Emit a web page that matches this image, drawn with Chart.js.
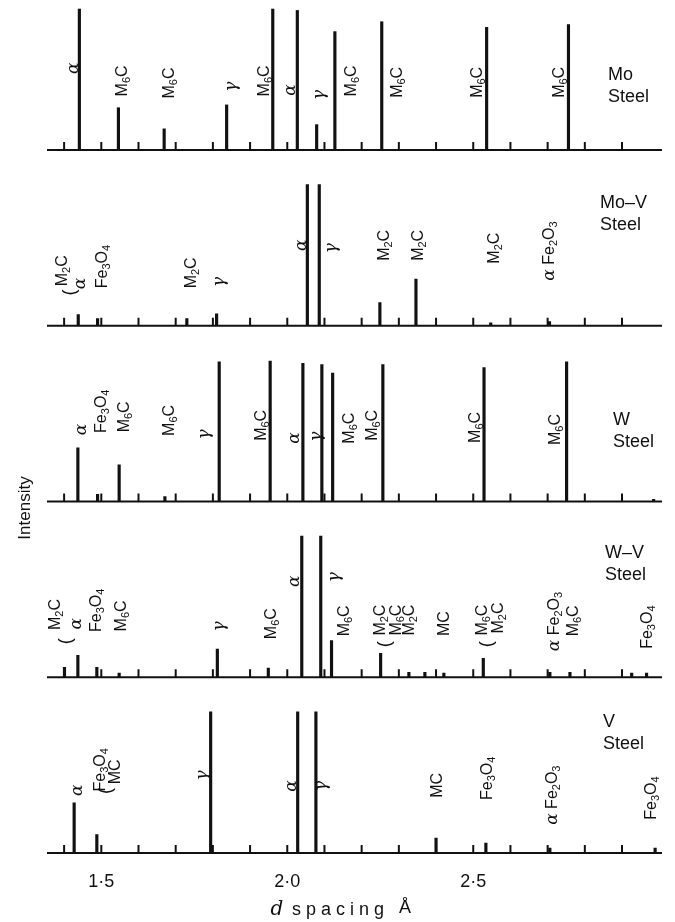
<!DOCTYPE html>
<html>
  <head>
    <script src="https://cdn.jsdelivr.net/npm/chart.js@4"></script>
    <style>
      html, body { margin: 0; padding: 0; background: #fff; }
      #wrap { position: relative; width: 675px; height: 922px; }
    </style>
  </head>

  <body>
    <div id="wrap"><canvas id="canvas"></canvas></div>
    <script>
      // d spacing (Å) of each diffraction line and its height (strongest line = 100)
      const moD = [1.441, 1.546, 1.669, 1.837, 1.961, 2.027, 2.079, 2.128, 2.254, 2.536, 2.756];
      const moI = [100, 30, 15, 32, 100, 99, 18, 84, 91, 87, 89];

      const moVD = [1.438, 1.490, 1.730, 1.810, 2.054, 2.086, 2.249, 2.346, 2.547, 2.705];
      const moVI = [8, 5, 5, 8.5, 100, 100, 16.5, 33, 2, 3];

      const wD = [1.437, 1.490, 1.548, 1.671, 1.817, 1.954, 2.042, 2.093, 2.122, 2.257, 2.529, 2.751, 2.985];
      const wI = [38, 5, 26, 3.5, 99, 99.5, 98, 97, 91, 97, 95, 99, 1.5];

      const wVD = [1.401, 1.437, 1.488, 1.548, 1.812, 1.949, 2.039, 2.090, 2.119, 2.251, 2.327, 2.370, 2.421, 2.527, 2.706, 2.760, 2.926, 2.966];
      const wVI = [7, 15.5, 7, 3, 20, 6.5, 100, 100, 26, 17, 3.5, 3.5, 3, 13.5, 3.5, 3.5, 3, 3];

      const vD = [1.427, 1.488, 1.794, 2.028, 2.077, 2.400, 2.534, 2.706, 2.989];
      const vI = [35.5, 13, 100, 100, 100, 10.5, 7, 3.5, 3.5];

      // line identifications: [text, d, height]; "_" marks a subscript
      const moLabels = [
        ['α', 1.421, 58], ['M_6C', 1.555, 49], ['M_6C', 1.680, 47.5], ['γ', 1.846, 45],
        ['M_6C', 1.935, 49], ['α', 2.005, 42.5], ['γ', 2.083, 39], ['M_6C', 2.169, 49],
        ['M_6C', 2.294, 48], ['M_6C', 2.509, 48], ['M_6C', 2.729, 48]
      ];
      const moVLabels = [
        ['(', 1.413, 23.5], ['M_2C', 1.392, 39], ['α', 1.441, 30], ['Fe_3O_4', 1.501, 42],
        ['M_2C', 1.739, 37.5], ['γ', 1.814, 31], ['α', 2.034, 57], ['γ', 2.115, 55],
        ['M_2C', 2.258, 57], ['M_2C', 2.350, 57], ['M_2C', 2.554, 55], ['α Fe_2O_3', 2.702, 53]
      ];
      const wLabels = [
        ['α', 1.443, 51], ['Fe_3O_4', 1.497, 64], ['M_6C', 1.559, 60], ['M_6C', 1.680, 57.5],
        ['γ', 1.774, 47.5], ['M_6C', 1.927, 54], ['α', 2.016, 45], ['γ', 2.075, 46],
        ['M_6C', 2.164, 52], ['M_6C', 2.227, 54], ['M_6C', 2.502, 52.5], ['M_6C', 2.717, 51]
      ];
      const wVLabels = [
        ['(', 1.400, 25.5], ['M_2C', 1.373, 44.5], ['α', 1.430, 38], ['Fe_3O_4', 1.483, 47.5],
        ['M_6C', 1.551, 43.5], ['γ', 1.815, 36], ['M_6C', 1.954, 38], ['α', 2.016, 68],
        ['γ', 2.123, 71], ['M_6C', 2.151, 40], ['M_2C', 2.247, 40.5], ['M_6C', 2.290, 40.5],
        ['M_2C', 2.325, 40.5], ['(', 2.259, 23.4], ['MC', 2.419, 38], ['M_6C', 2.521, 40.5],
        ['M_2C', 2.564, 42], ['(', 2.533, 23.4], ['α Fe_2O_3', 2.715, 39.5], ['M_6C', 2.767, 40],
        ['Fe_3O_4', 2.966, 35.5]
      ];
      const vLabels = [
        ['α', 1.432, 44.5], ['(', 1.508, 44], ['Fe_3O_4', 1.495, 59], ['MC', 1.534, 57.5],
        ['γ', 1.770, 55], ['α', 2.008, 47.5], ['γ', 2.088, 47.5], ['MC', 2.402, 48],
        ['Fe_3O_4', 2.536, 53], ['α Fe_2O_3', 2.711, 41], ['Fe_3O_4', 2.975, 39]
      ];

      const steelNames = ['Mo', 'Mo–V', 'W', 'W–V', 'V'];
      const fiducialD = [1.4, 1.5, 1.6, 1.7, 1.8, 1.9, 2.0, 2.1, 2.2, 2.3, 2.4, 2.5, 2.6, 2.7, 2.8, 2.9];
      const tickValues = [1.5, 2.0, 2.5];
      const tickLabels = ['1·5', '2·0', '2·5'];

      const INK = '#111';
      const SANS = '"Liberation Sans", Arial, sans-serif';
      const SERIF = '"DejaVu Serif", serif';

      // one stacked y axis per steel, top to bottom
      const panels = [
        { id: 'yMo', name: steelNames[0], d: moD, v: moI, labels: moLabels, nameAt: [2.862, 53], weight: 5, stackWeight: 148, max: 105 },
        { id: 'yMoV', name: steelNames[1], d: moVD, v: moVI, labels: moVLabels, nameAt: [2.841, 87], weight: 4, stackWeight: 175.75, max: 124.6 },
        { id: 'yW', name: steelNames[2], d: wD, v: wI, labels: wLabels, nameAt: [2.876, 58], weight: 3, stackWeight: 175.75, max: 124.6 },
        { id: 'yWV', name: steelNames[3], d: wVD, v: wVI, labels: wVLabels, nameAt: [2.854, 88], weight: 2, stackWeight: 175.75, max: 124.6 },
        { id: 'yV', name: steelNames[4], d: vD, v: vI, labels: vLabels, nameAt: [2.849, 93], weight: 1, stackWeight: 175.75, max: 124.6 }
      ];

      function runsOf(text) {
        const runs = [];
        for (let i = 0; i < text.length; i++) {
          let ch = text[i];
          let sub = false;
          if (ch === '_') { sub = true; ch = text[++i]; }
          runs.push({ ch, sub, greek: /[αγ]/.test(ch), paren: ch === '(' });
        }
        return runs;
      }

      function runFont(r) {
        if (r.greek) return 'italic 17px ' + SERIF;
        if (r.sub) return '11px ' + SANS;
        if (r.paren) return '18px ' + SANS;
        return '16px ' + SANS;
      }

      // text written upwards, centred on (x, y)
      function drawUpright(ctx, text, x, y) {
        const runs = runsOf(text);
        let total = 0;
        runs.forEach((r) => {
          ctx.font = runFont(r);
          r.w = ctx.measureText(r.ch).width;
          total += r.w;
        });
        ctx.save();
        ctx.translate(x, y);
        ctx.rotate(-Math.PI / 2);
        ctx.textAlign = 'left';
        ctx.textBaseline = 'alphabetic';
        let cx = -total / 2;
        runs.forEach((r) => {
          ctx.font = runFont(r);
          const base = r.paren ? 6.5 : 5.7;
          ctx.fillText(r.ch, cx, r.sub ? base + 3 : base);
          cx += r.w;
        });
        ctx.restore();
      }

      const inkPlugin = {
        id: 'ink',
        afterDatasetsDraw(chart) {
          const { ctx, chartArea, scales } = chart;
          const xs = scales.x;
          ctx.save();
          ctx.strokeStyle = INK;
          ctx.fillStyle = INK;
          ctx.lineWidth = 2;

          panels.forEach((p) => {
            const ys = scales[p.id];
            const y0 = ys.getPixelForValue(0);
            ctx.beginPath();
            ctx.moveTo(chartArea.left, y0);
            ctx.lineTo(chartArea.right, y0);
            ctx.stroke();

            fiducialD.forEach((d) => {
              const x = xs.getPixelForValue(d);
              ctx.beginPath();
              ctx.moveTo(x, y0);
              ctx.lineTo(x, y0 - 8);
              ctx.stroke();
            });

            p.labels.forEach(([t, d, v]) => drawUpright(ctx, t, xs.getPixelForValue(d), ys.getPixelForValue(v)));

            ctx.font = '18px ' + SANS;
            ctx.textAlign = 'left';
            ctx.textBaseline = 'middle';
            const nx = xs.getPixelForValue(p.nameAt[0]);
            const ny = ys.getPixelForValue(p.nameAt[1]);
            ctx.fillText(p.name, nx, ny);
            ctx.fillText('Steel', nx, ny + 22);
          });

          // y title
          ctx.save();
          ctx.translate(25, 508);
          ctx.rotate(-Math.PI / 2);
          ctx.font = '17px ' + SANS;
          ctx.textAlign = 'center';
          ctx.textBaseline = 'middle';
          ctx.fillText('Intensity', 0, 0);
          ctx.restore();

          // x title, widely spaced
          const ty = chartArea.bottom + 57;
          ctx.textBaseline = 'middle';
          ctx.textAlign = 'center';
          ctx.font = 'italic 20px ' + SERIF;
          ctx.fillText('d', 277, ty);
          ctx.font = '18px ' + SANS;
          ctx.textAlign = 'left';
          let sx = 292;
          for (const ch of 'spacing') {
            ctx.fillText(ch, sx, ty);
            sx += ctx.measureText(ch).width + 5;
          }
          ctx.textAlign = 'center';
          ctx.fillText('Å', 405, ty - 2);
          ctx.restore();
        },
      };

      const scales = {
        x: {
          type: 'linear',
          min: 1.354,
          max: 3.0075,
          offset: false,
          grid: { display: false, offset: false },
          border: { display: false },
          afterBuildTicks: (s) => { s.ticks = tickValues.map((v) => ({ value: v })); },
          afterFit: (s) => { s.height = 69; },
          ticks: {
            padding: 10,
            color: INK,
            maxRotation: 0,
            autoSkip: false,
            font: { size: 18, family: SANS },
            callback: (v) => tickLabels[tickValues.indexOf(v)],
          },
        },
      };
      // bottom panel first: the last left axis sits on top of the stack
      panels.slice().reverse().forEach((p) => {
        scales[p.id] = {
          type: 'linear',
          position: 'left',
          stack: 'steels',
          stackWeight: p.stackWeight,
          weight: p.weight,
          min: 0,
          max: p.max,
          display: false,
        };
      });

      new Chart(document.getElementById('canvas').getContext('2d'), {
        type: 'bar',
        data: {
          datasets: panels.map((p) => ({
            label: p.name + ' Steel',
            data: p.d.map((d, i) => ({ x: d, y: p.v[i] })),
            yAxisID: p.id,
            backgroundColor: INK,
            borderWidth: 0,
            barThickness: 2.5,
            grouped: false,
          })),
        },
        options: {
          responsive: true,
          maintainAspectRatio: false,
          animation: false,
          layout: { padding: { top: 2, left: 47, right: 13, bottom: 0 } },
          plugins: {
            legend: { display: false },
            tooltip: { enabled: false },
          },
          scales,
        },
        plugins: [inkPlugin],
      });
    </script>
  </body>
</html>
